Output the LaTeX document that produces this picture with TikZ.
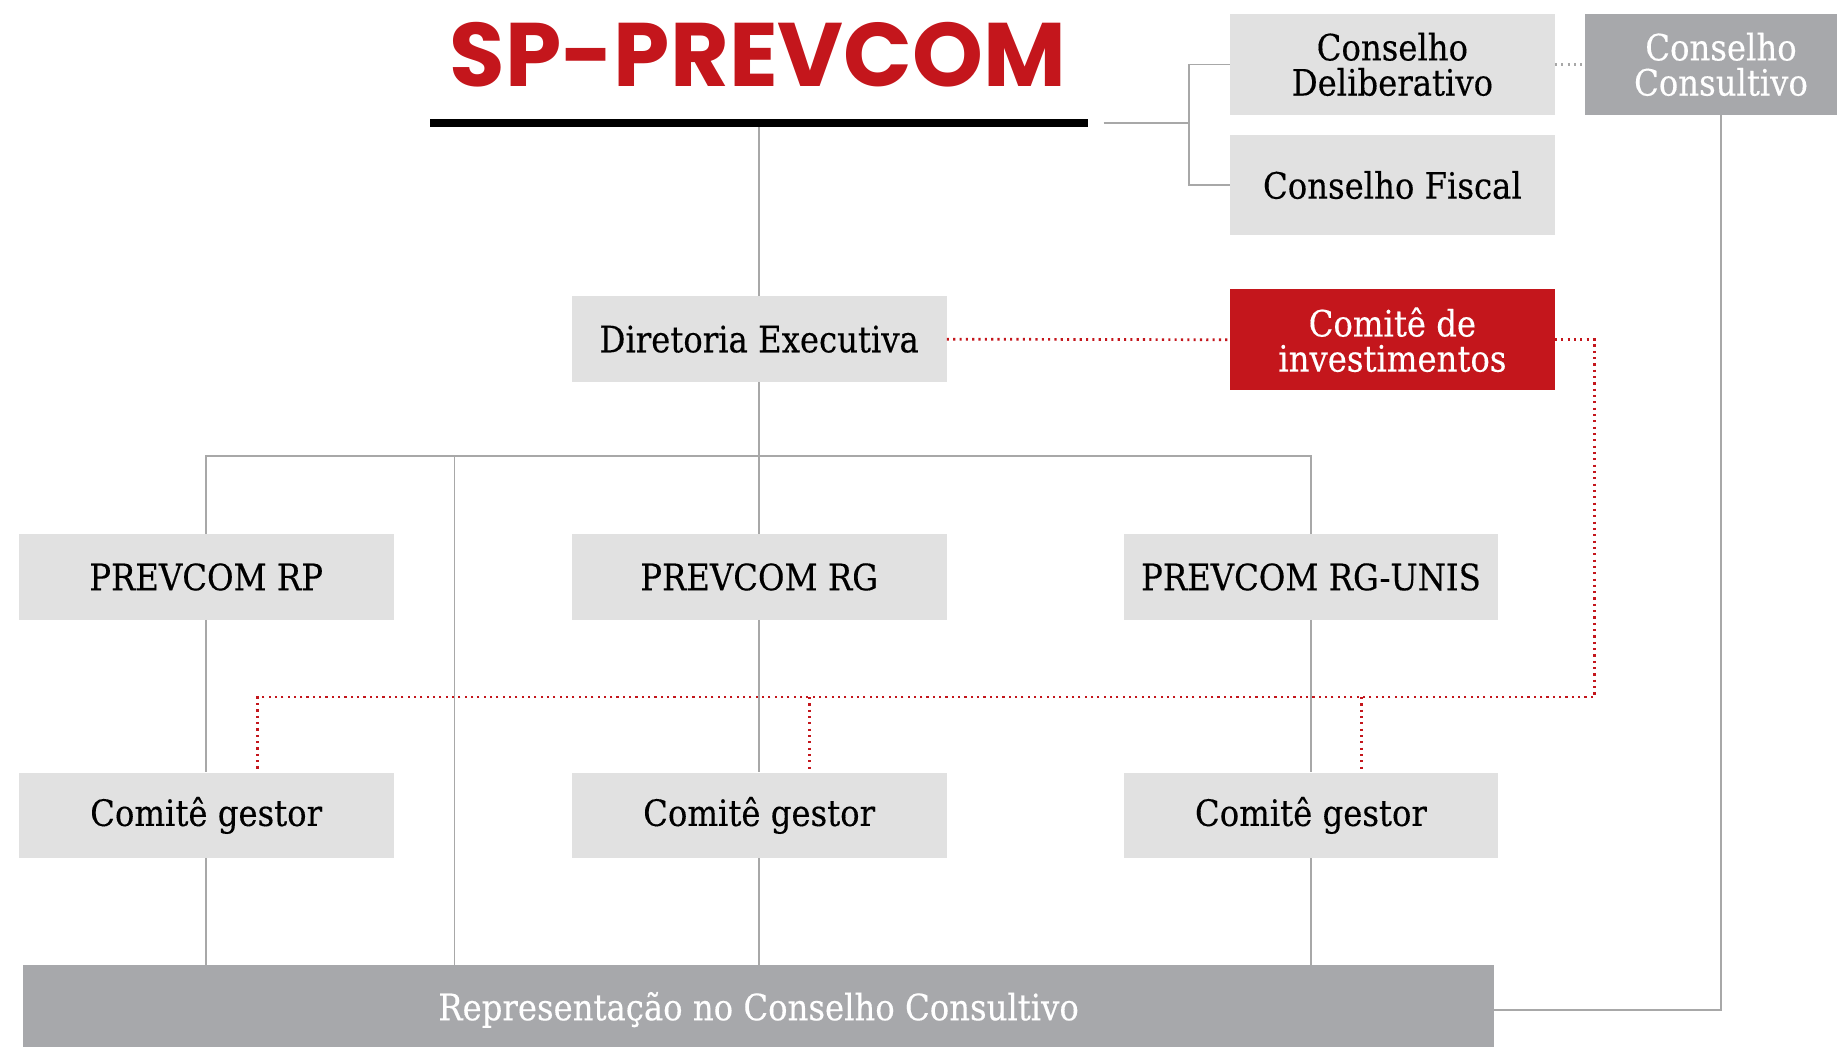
\documentclass[tikz,border=0pt]{standalone}
\usepackage{fontspec}
\setmainfont{DejaVu Serif}[FakeStretch=0.89,FakeBold=0.3]
\newfontfamily\titlefont{Poppins}
\definecolor{prevred}{HTML}{C4161C}
\definecolor{lightbox}{HTML}{E1E1E1}
\definecolor{darkbox}{HTML}{A7A8AB}
\definecolor{linegray}{HTML}{A8A8A8}
\begin{document}
\begin{tikzpicture}[x=1pt,y=-1pt,
  box/.style={fill=lightbox, minimum width=320, minimum height=73, inner sep=0, align=center,
    font=\fontsize{31}{30}\selectfont, text=black},
  cbox/.style={box, minimum width=277, minimum height=86},
  darkb/.style={box, fill=darkbox, text=white},
  conn/.style={draw=linegray, line width=1.5},
  reddot/.style={draw=prevred, line width=2.3, dash pattern=on 1.8pt off 3.6pt},
  graydot/.style={draw=linegray, line width=2.3, dash pattern=on 1.8pt off 3.6pt}]
\useasboundingbox (0,0) rectangle (1568,893);
% title
\node (title) at (647,47) {\titlefont\bfseries\fontsize{77}{77}\selectfont\color{prevred}SP-PREVCOM};
\node (bar) [fill=black, minimum width=562, minimum height=6, inner sep=0] at (648,105) {};
% councils
\node (del) [cbox] at (1188.5,55) {Conselho\\Deliberativo};
\node (fis) [cbox] at (1188.5,158) {Conselho Fiscal};
\node (cons) [darkb, minimum width=232, minimum height=86] at (1469,55) {Conselho\\Consultivo};
\node (dir) [box] at (648,289.5) {Diretoria Executiva};
\node (inv) [cbox, fill=prevred, text=white] at (1188.5,290) {Comitê de\\investimentos};
% plans
\node (rp) [box] at (176,492.5) {PREVCOM RP};
\node (rg) [box] at (648,492.5) {PREVCOM RG};
\node (unis) [box] at (1119,492.5) {PREVCOM RG-UNIS};
\node (g1) [box] at (176,696) {Comitê gestor};
\node (g2) [box] at (648,696) {Comitê gestor};
\node (g3) [box] at (1119,696) {Comitê gestor};
\node (rep) [darkb, minimum width=1255, minimum height=76] at (647.5,862) {Representação no Conselho Consultivo};
% coordinates
\coordinate (barR) at (942,105);
\coordinate (jct) at (1015,105);
\coordinate (hub) at (648,389);
\coordinate (hubL) at (176,389);
\coordinate (hubR) at (1119,389);
\coordinate (hubM) at (388,389);
\coordinate (rc) at (1361,595);
% grey connectors
\draw[conn] (bar.south) -- (dir.north);
\draw[conn] (barR) -- (jct);
\draw[conn] (del.west) -| (jct) |- (fis.west);
\draw[graydot] (del.east) -- (cons.west);
\draw[conn] (cons.south) |- (rep.east);
\draw[conn] (dir.south) -- (hub);
\draw[conn] (rp.north) |- (hubL) -- (hubR) -- (unis.north);
\draw[conn] (hub) -- (rg.north);
\draw[conn] (hubM) -- (hubM |- rep.north);
\draw[conn] (rp) -- (g1);
\draw[conn] (rg) -- (g2);
\draw[conn] (unis) -- (g3);
\draw[conn] (g1.south) -- (g1.south |- rep.north);
\draw[conn] (g2.south) -- (g2.south |- rep.north);
\draw[conn] (g3.south) -- (g3.south |- rep.north);
% red dotted
\path ([xshift=44pt]g1.north) coordinate (d1);
\path ([xshift=43pt]g2.north) coordinate (d2);
\path ([xshift=43pt]g3.north) coordinate (d3);
\draw[reddot] (dir.east) -- (inv.west);
\draw[reddot] (inv.east) -| (rc) -| (d1);
\draw[reddot] (d2 |- rc) -- (d2);
\draw[reddot] (d3 |- rc) -- (d3);
\end{tikzpicture}
\end{document}
